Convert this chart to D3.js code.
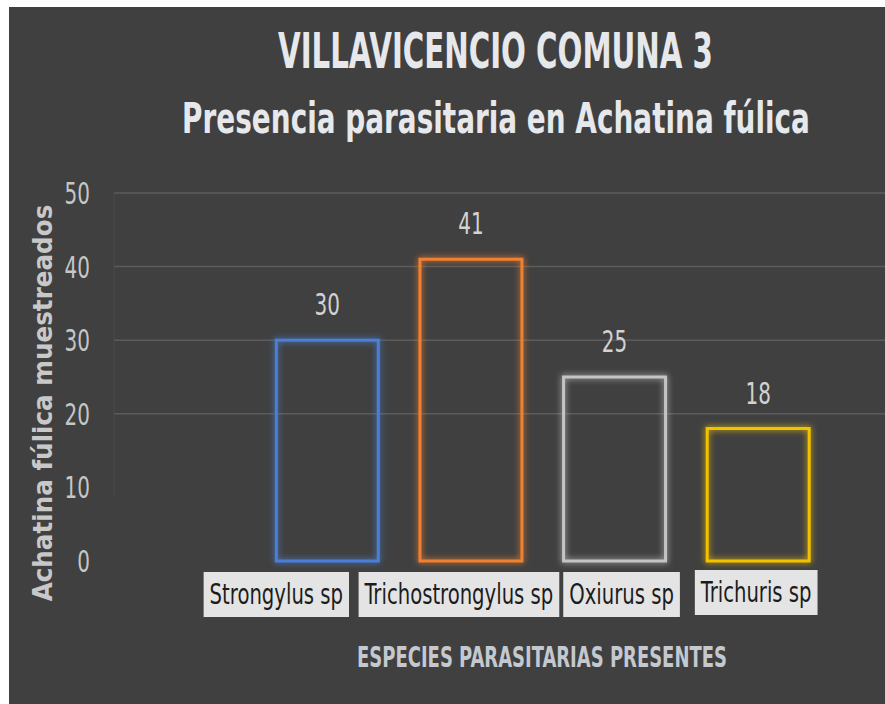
<!DOCTYPE html>
<html>
<head>
<meta charset="utf-8">
<script src="https://cdn.jsdelivr.net/npm/d3@7"></script>
<style>
  html, body { margin: 0; padding: 0; background: #fff; }
  svg { display: block; }
</style>
</head>
<body>
<svg id="chart" width="885" height="704"></svg>
<script>
// data
const categories = ['Strongylus sp', 'Trichostrongylus sp', 'Oxiurus sp', 'Trichuris sp'];
const values = [30, 41, 25, 18];
const barColors = ['#4a7fd6', '#f08030', '#c4c4c4', '#f2c200'];
const yTicks = [0, 10, 20, 30, 40, 50];

const titleLines = ['VILLAVICENCIO COMUNA 3', 'Presencia parasitaria en Achatina fúlica'];
const xTitle = 'ESPECIES PARASITARIAS PRESENTES';
const yTitle = 'Achatina  fúlica  muestreados';

// the pasted category boxes sit a bit off the bar centres
const labelNudge = [-51, -12, 7, -2];

const svg = d3.select('#chart');
const W = 885, H = 704;
const font = '"DejaVu Sans Condensed", "DejaVu Sans", sans-serif';
const squeeze = 0.74; // the original font is much narrower
const labelSqueeze = 0.78;

// white frame then dark chart area
svg.append('rect').attr('width', W).attr('height', H).attr('fill', '#ffffff');
svg.append('rect').attr('x', 9).attr('y', 7).attr('width', W - 9).attr('height', H - 7).attr('fill', '#404040');

const defs = svg.append('defs');
const glow = defs.append('filter').attr('id', 'glow')
  .attr('x', '-20%').attr('y', '-20%').attr('width', '140%').attr('height', '140%');
glow.append('feGaussianBlur').attr('in', 'SourceGraphic').attr('stdDeviation', 3).attr('result', 'b');
const merge = glow.append('feMerge');
merge.append('feMergeNode').attr('in', 'b');
merge.append('feMergeNode').attr('in', 'SourceGraphic');

// put a centred text at (cx, y), squeezed horizontally to a given width
function fitText(parent, str, cx, y, width, size, weight, fill) {
  const g = parent.append('g');
  const t = g.append('text')
    .attr('text-anchor', 'middle')
    .attr('fill', fill)
    .style('font-family', font)
    .style('font-weight', weight)
    .style('font-size', size + 'px')
    .text(str);
  const sx = width / t.node().getComputedTextLength();
  g.attr('transform', `translate(${cx},${y}) scale(${sx},1)`);
  return g;
}

const x = d3.scaleBand()
  .domain(categories)
  .range([255.5, 830])
  .paddingInner(0.29)
  .paddingOuter(0.145);

const y = d3.scaleLinear()
  .domain([0, 50])
  .range([561, 193]);

// gridlines (only the upper ones show in the picture)
svg.append('g')
  .selectAll('line')
  .data(yTicks.filter(d => d >= 20))
  .join('line')
    .attr('x1', 114).attr('x2', W)
    .attr('y1', d => y(d)).attr('y2', d => y(d))
    .attr('stroke', '#5c5c5c').attr('stroke-width', 1.5);

svg.append('line')
  .attr('x1', 114).attr('x2', 114)
  .attr('y1', y(50)).attr('y2', y(9))
  .attr('stroke', '#4b4b4b').attr('stroke-width', 1);

// y axis ticks, right aligned at x=90
svg.append('g')
  .selectAll('g')
  .data(yTicks)
  .join('g')
    .attr('transform', d => `translate(90,${y(d) + 11}) scale(${squeeze},1)`)
  .append('text')
    .attr('text-anchor', 'end')
    .attr('fill', '#c6c6c6')
    .style('font-family', font)
    .style('font-size', '30px')
    .text(d => d);

// bars
svg.append('g')
  .selectAll('rect')
  .data(values)
  .join('rect')
    .attr('x', (d, i) => x(categories[i]))
    .attr('y', d => y(d))
    .attr('width', x.bandwidth())
    .attr('height', d => y(0) - y(d))
    .attr('fill', 'none')
    .attr('stroke', (d, i) => barColors[i])
    .attr('stroke-width', 3)
    .attr('filter', 'url(#glow)');

// value labels
svg.append('g')
  .selectAll('g')
  .data(values)
  .join('g')
    .attr('transform', (d, i) => `translate(${x(categories[i]) + x.bandwidth() / 2},${y(d) - 25}) scale(${squeeze},1)`)
  .append('text')
    .attr('text-anchor', 'middle')
    .attr('fill', '#d2d2d2')
    .style('font-family', font)
    .style('font-size', '30px')
    .text(d => d);

// category labels in light boxes
const lab = svg.append('g')
  .selectAll('g')
  .data(categories)
  .join('g')
    .attr('transform', (d, i) => `translate(${x(d) + x.bandwidth() / 2 + labelNudge[i]},${i === 3 ? 592 : 594})`);
lab.append('rect').attr('class', 'box');
lab.append('g')
  .attr('transform', `scale(${labelSqueeze},1)`)
  .append('text')
    .attr('text-anchor', 'middle')
    .attr('dy', '0.36em')
    .attr('fill', '#1c1c1c')
    .style('font-family', font)
    .style('font-size', '28px')
    .text(d => d);
lab.each(function () {
  const g = d3.select(this);
  const w = g.select('text').node().getComputedTextLength() * labelSqueeze + 12;
  g.select('rect')
    .attr('x', -w / 2).attr('y', -22)
    .attr('width', w).attr('height', 45)
    .attr('fill', '#e4e4e4');
});

// titles
fitText(svg, titleLines[0], 495.5, 68, 435, 50, 'bold', '#e6e8ec');
fitText(svg, titleLines[1], 496, 133, 628, 43, 'bold', '#e6e8ec');
fitText(svg, xTitle, 542, 667, 370, 29, 'bold', '#c4c8cf');

// y title, rotated
const yt = svg.append('g').attr('transform', 'translate(52,403) rotate(-90)');
fitText(yt, yTitle, 0, 0, 397, 26, 'bold', '#c8c8c8');
</script>
</body>
</html>
